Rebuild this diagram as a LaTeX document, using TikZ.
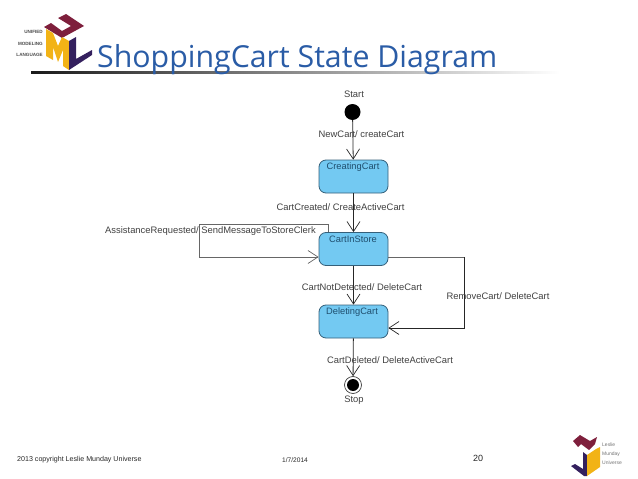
\documentclass[tikz,border=0pt]{standalone}
\usepackage{fontspec}
\setmainfont{Liberation Sans}
\newfontfamily\titlefont{Open Sans}
\usepackage{xcolor}
\usetikzlibrary{arrows.meta}
\definecolor{titleblue}{HTML}{2A5CA6}
\definecolor{statefill}{HTML}{73C9F2}
\definecolor{stateline}{HTML}{35607A}
\definecolor{statetext}{HTML}{1F4E6E}
\definecolor{umlred}{HTML}{7E1F3C}
\definecolor{umlyellow}{HTML}{F2B316}
\definecolor{umlpurple}{HTML}{34205E}

\begin{document}
\begin{tikzpicture}[
  x=1pt,y=-1pt,
  every node/.style={font=\fontsize{9.4}{11}\selectfont,text=black!75,inner sep=0pt},
  st/.style={draw=stateline,thick,fill=statefill,rounded corners=7pt,minimum width=69pt,minimum height=33pt},
  nm/.style={font=\fontsize{9.3}{11}\selectfont,text=statetext},
  tr/.style={draw=black!85,line width=0.8pt,-{Straight Barb[length=10pt,width=13pt,line width=0.7pt]}},
  gl/.style={draw=black!60,line width=0.9pt},
  ft/.style={anchor=west,text=black!85,font=\fontsize{7.1}{9}\selectfont},
  lg/.style={anchor=east,text=black!70,font=\fontsize{4.6}{6}\bfseries\selectfont},
  lh/.style={anchor=west,text=black!55,font=\fontsize{5}{6}\selectfont}
]
\useasboundingbox (0,0) rectangle (638,479);
% title bar
\shade[left color=black!90,right color=white] (31,71.2) rectangle (560,73.2);
\node[anchor=base west,text=titleblue,font=\titlefont\fontsize{30.3}{36}\selectfont] (title) at (97,67) {ShoppingCart State Diagram};
% logo
\fill[umlred] (44,27) -- (62,38) -- (84,26) -- (66,14) -- (58,18) -- (71,26) -- (62,31) -- (51,23) -- cycle;
\fill[umlyellow] (46,29) -- (53,33) -- (58,46) -- (62,37) -- (69,41) -- (69,70) -- (63,66) -- (63,50) -- (58,62) -- (53,47) -- (53,60) -- (46,56) -- cycle;
\fill[umlpurple] (69,41) -- (76,37) -- (76,59) -- (92,50) -- (92,55) -- (69,70) -- cycle;
\node[lg] (un) at (43,32) {UNIFIED};
\node[lg] (md) at (43,43.5) {MODELING};
\node[lg] (lg) at (43,54.5) {LANGUAGE};
% states
\node[circle,fill=black,minimum size=16pt] (start) at (352.5,112) {};
\node[st] (creating) at (353.5,176.5) {};
\node[st] (instore) at (353.5,249) {};
\node[st] (deleting) at (353.5,321.5) {};
\node[circle,draw=black!75,line width=0.7pt,minimum size=17pt] (stop) at (353,385) {};
\node[circle,fill=black,minimum size=12pt] (stopin) at (353,385) {};
\node[nm] (creatingt) at (353,167) {CreatingCart};
\node[nm] (instoret) at (353,239) {CartInStore};
\node[nm] (deletingt) at (352,312) {DeletingCart};
\node (startt) at (354,94) {Start};
\node (stopt) at (354,400) {Stop};
% bends
\coordinate (lpa) at (328,224.5);
\coordinate (lpb) at (199,224.5);
\coordinate (lpc) at (199,257);
\coordinate (rma) at (464,257);
\coordinate (rmb) at (464,328);
% transitions
\draw[tr] (start) -- (creating);
\draw[tr] (creating) -- (instore);
\draw[tr] (instore) -- (deleting);
\draw[tr] (deleting) -- (stop);
\draw[tr,draw=black!60] (instore.north -| lpa) -- (lpa) -- (lpb) -- (lpc) -- (instore.west |- lpc);
\draw[gl] (instore.east |- rma) -- (rma);
\draw[tr] (rma) -- (rmb) -- (deleting.east |- rmb);
% labels
\node (newcart) at (361.5,134) {NewCart/ createCart};
\node (created) at (340.5,207) {CartCreated/ CreateActiveCart};
\node[anchor=west] (assist) at (105,231) {AssistanceRequested/ SendMessageToStoreClerk};
\node (notdet) at (362,287) {CartNotDetected/ DeleteCart};
\node (remove) at (498,296) {RemoveCart/ DeleteCart};
\node (deleted) at (390,360) {CartDeleted/ DeleteActiveCart};
% footer
\node[ft] (copy) at (17,459.5) {2013 copyright Leslie Munday Universe};
\node[ft,font=\fontsize{6.6}{8}\selectfont] (date) at (282,460) {1/7/2014};
\node[ft,font=\fontsize{9}{11}\selectfont] (page) at (473,458) {20};
% small logo
\fill[umlred] (573,441) -- (580,435) -- (590,441) -- (597,437) -- (595,444) -- (589,450) -- (581,444) -- (578,447) -- cycle;
\fill[umlpurple] (571,466) -- (575,464) -- (583,469) -- (583,452) -- (587,455) -- (587,476) -- (584,476) -- cycle;
\fill[umlyellow] (587,455) -- (596,449) -- (600,447) -- (600,467) -- (587,476) -- cycle;
\node[lh] (ls) at (602,445) {Leslie};
\node[lh] (mu) at (602,454) {Munday};
\node[lh] (uv) at (602,462.5) {Universe};
\end{tikzpicture}
\end{document}
